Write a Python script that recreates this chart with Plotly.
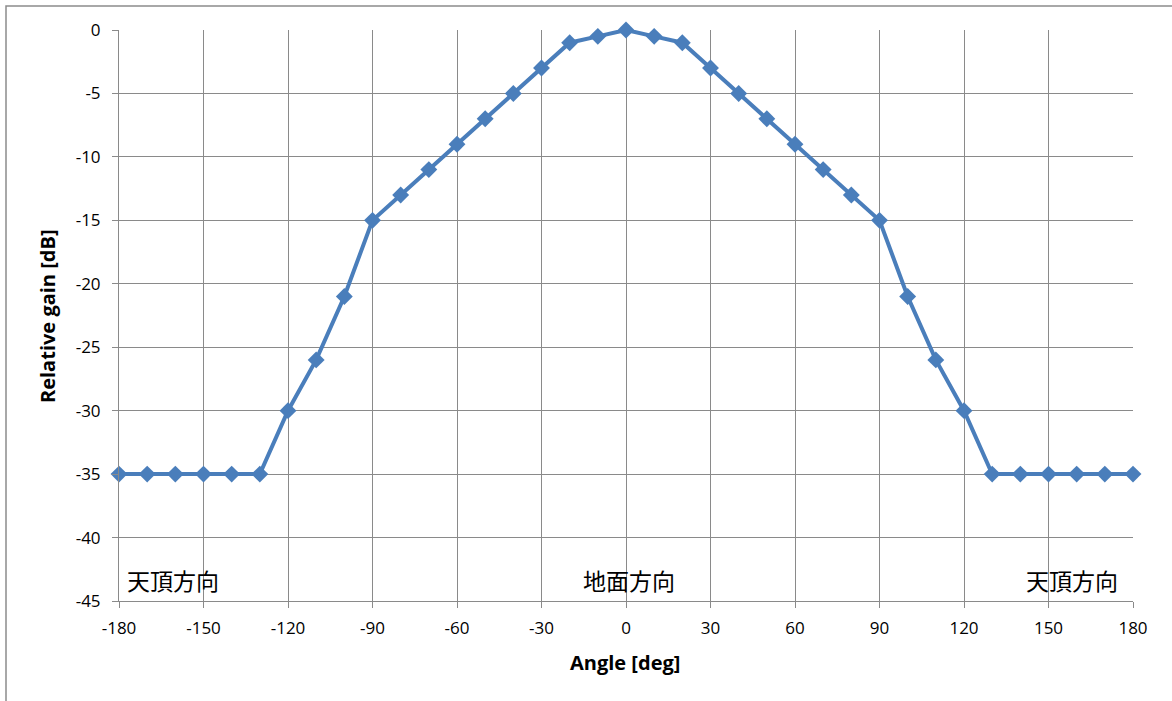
import plotly.graph_objects as go

angles = [-180, -170, -160, -150, -140, -130, -120, -110, -100, -90, -80, -70, -60, -50, -40, -30, -20, -10,
          0, 10, 20, 30, 40, 50, 60, 70, 80, 90, 100, 110, 120, 130, 140, 150, 160, 170, 180]
gain = [-35, -35, -35, -35, -35, -35, -30, -26, -21, -15, -13, -11, -9, -7, -5, -3, -1, -0.5,
        0, -0.5, -1, -3, -5, -7, -9, -11, -13, -15, -21, -26, -30, -35, -35, -35, -35, -35, -35]

x_ticks = [-180, -150, -120, -90, -60, -30, 0, 30, 60, 90, 120, 150, 180]
y_ticks = [0, -5, -10, -15, -20, -25, -30, -35, -40, -45]

region_labels = ["天頂方向", "地面方向", "天頂方向"]
region_x = [-178, 1, 175.5]
region_anchor = ["left", "center", "right"]
region_y = -43.35

GRID = "#8a8a8a"
BLUE = "#4a7ebb"
TICKFONT = dict(family="Open Sans, Noto Sans, sans-serif", size=17, color="#000000")

fig = go.Figure()
fig.add_trace(go.Scatter(
    x=angles, y=gain, mode="lines+markers",
    line=dict(color=BLUE, width=4),
    marker=dict(symbol="diamond", size=13, color=BLUE),
    showlegend=False, cliponaxis=False,
))

L, R, T, B = 119, 39, 30, 100
W, H = 1172, 701
pw, ph = W - L - R, H - T - B

for txt, xv, anc in zip(region_labels, region_x, region_anchor):
    fig.add_annotation(x=xv, y=region_y, xref="x", yref="y", text=txt, showarrow=False,
                       xanchor=anc, yanchor="middle",
                       font=dict(family="Noto Sans CJK JP", size=23, color="#000000"))

fig.add_annotation(x=(625 - L) / pw, y=(H - B - 662) / ph, xref="paper", yref="paper",
                   text="<b>Angle [deg]</b>", showarrow=False, xanchor="center", yanchor="middle",
                   font=dict(family="Open Sans, Noto Sans, sans-serif", size=20, color="#000000"))
fig.add_annotation(x=(47 - L) / pw, y=(H - B - 316) / ph, xref="paper", yref="paper",
                   text="<b>Relative gain [dB]</b>", showarrow=False, textangle=-90,
                   xanchor="center", yanchor="middle",
                   font=dict(family="Open Sans, Noto Sans, sans-serif", size=20, color="#000000"))

# outer chart border
fig.add_shape(type="rect", xref="paper", yref="paper",
              x0=(6 - L) / pw, x1=(W + 20 - L) / pw,
              y0=(H - B - (H + 20)) / ph, y1=(H - B - 6) / ph,
              line=dict(color="#8c8c8c", width=1.5), fillcolor="rgba(0,0,0,0)", layer="below")

fig.update_layout(
    width=W, height=H,
    margin=dict(l=L, r=R, t=T, b=B),
    paper_bgcolor="white", plot_bgcolor="white",
    xaxis=dict(range=[-180, 180], tickvals=x_ticks, ticktext=[str(v) for v in x_ticks],
               showgrid=True, gridcolor=GRID, gridwidth=1,
               showline=True, linecolor=GRID, linewidth=1, mirror=False,
               ticks="outside", ticklen=6, tickcolor=GRID, tickfont=TICKFONT,
               ticklabelstandoff=6,
               zeroline=False, fixedrange=True),
    yaxis=dict(range=[-45, 0], tickvals=y_ticks, ticktext=[str(v) for v in y_ticks],
               showgrid=True, gridcolor=GRID, gridwidth=1,
               showline=True, linecolor=GRID, linewidth=1,
               ticks="outside", ticklen=6, tickcolor=GRID, tickfont=TICKFONT,
               ticklabelstandoff=8,
               zeroline=False, fixedrange=True),
)

fig.write_html("out.html", config={"displayModeBar": False},
               post_script="document.body.style.margin='0';document.body.style.overflow='hidden';")
